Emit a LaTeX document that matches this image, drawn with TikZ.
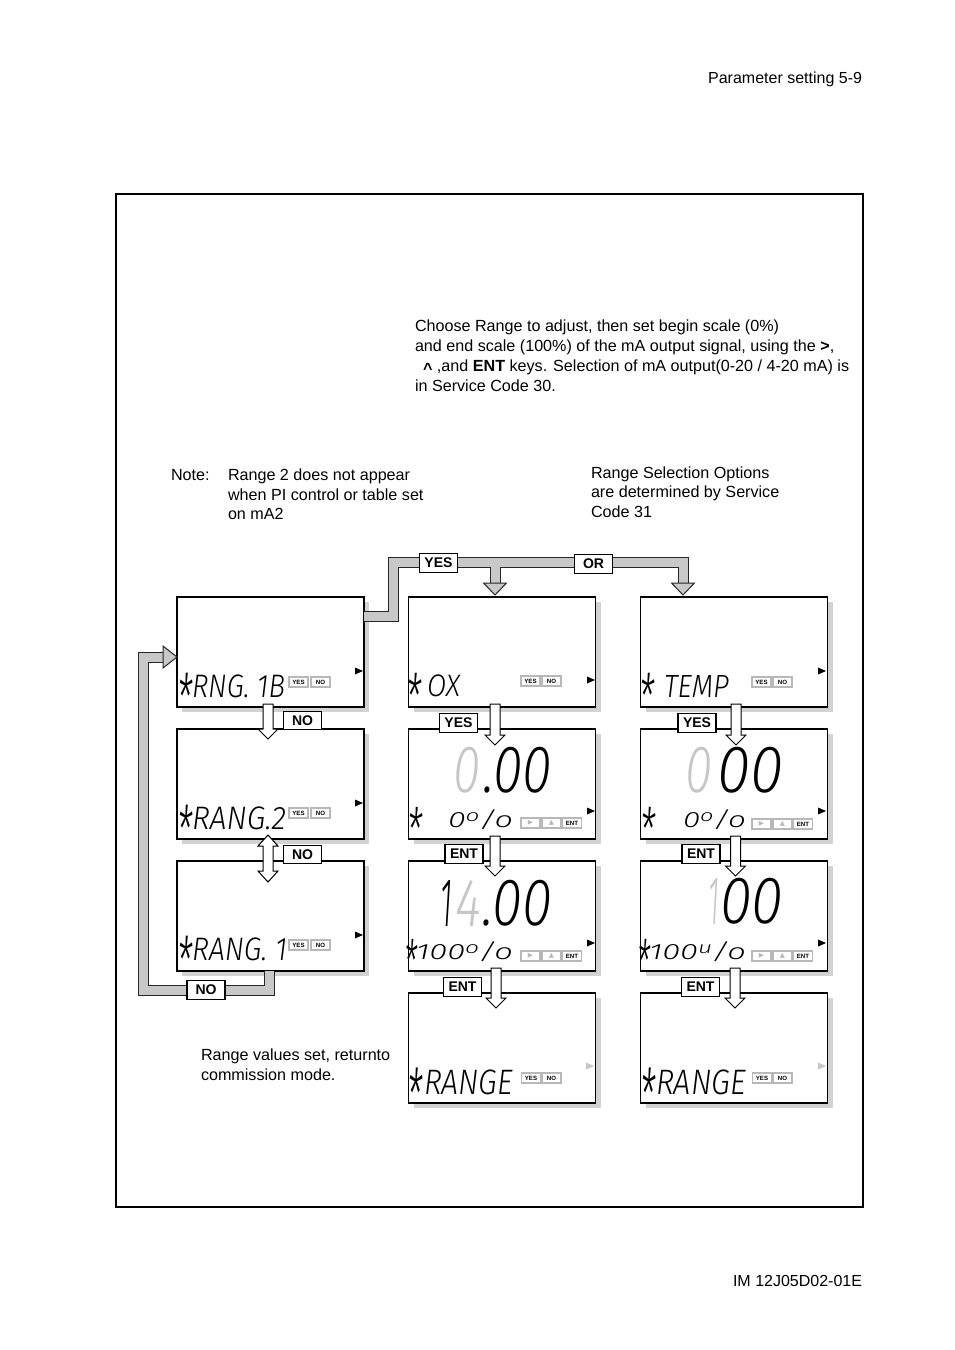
\documentclass[tikz,border=0pt]{standalone}
\usepackage{fontspec}
\setmainfont{Liberation Sans}
\newfontfamily\lcdfont{Fira Sans Light Italic}
\newfontfamily\symfont{DejaVu Sans}
\usetikzlibrary{shadows,calc}
\definecolor{pipegray}{HTML}{C8C8C8}
\definecolor{shadowgray}{HTML}{D2D2D2}
\definecolor{dimgray}{HTML}{C6C6C6}
\definecolor{btngray}{HTML}{B8B8B8}
\newcommand\lcdt[3]{\resizebox*{\dimexpr #1pt*3/4\relax}{\dimexpr #2pt*3/4\relax}{\lcdfont #3}}
\newcommand\lstar{\raisebox{-0.36em}[0.35em][0pt]{*}}
\newcommand\rtri[3]{\fill[#3] (#1,#2-3.5) -- (#1+8,#2) -- (#1,#2+3.5) -- cycle;}
\newcommand\warr[5]{\filldraw[warrow] ($(#1.south)+(#3-5,-3)$) -- ($(#1.south)+(#3+5,-3)$) -- ($(#2.north)+(#3+5,#4)$) -- ($(#2.north)+(#3+10,#4)$) -- ($(#2.north)+(#3,#5)$) -- ($(#2.north)+(#3-10,#4)$) -- ($(#2.north)+(#3-5,#4)$) -- cycle;}
\begin{document}
\begin{tikzpicture}[x=0.75pt,y=-0.75pt,
  every node/.style={inner sep=0pt, outer sep=0pt},
  lcdbox/.style={draw=black, line width=0.9pt, fill=white, minimum width=140.25pt, minimum height=82.5pt,
     copy shadow={shadow xshift=3.75pt, shadow yshift=-3.75pt, draw=none, fill=shadowgray}},
  body/.style={font=\fontsize{12.1}{15}\selectfont, anchor=base west},
  lab/.style={draw=black, line width=0.9pt, fill=white, minimum width=28.5pt, minimum height=14pt,
     font=\bfseries\fontsize{10.5}{12}\selectfont},
  btn/.style={draw=btngray, line width=1.1pt, fill=white, minimum width=14pt, minimum height=7.5pt,
     font=\bfseries\fontsize{4.6}{5}\selectfont},
  lcd/.style={anchor=south west},
  pipeout/.style={line width=8.25pt, draw=black!85, line cap=butt, line join=miter},
  pipein/.style={line width=6.75pt, draw=pipegray, line cap=butt, line join=miter},
  pipehead/.style={fill=pipegray, draw=black!85, line width=0.75pt, line join=miter},
  warrow/.style={fill=white, draw=black, line width=0.75pt, line join=miter},
]
\useasboundingbox (0,0) rectangle (954,1350);

% header / footer / frame
\node[anchor=base east, font=\fontsize{12}{14}\selectfont] (hdr) at (862,83) {Parameter setting 5-9};
\node[anchor=base east, font=\fontsize{12}{14}\selectfont] (ftr) at (862,1286) {IM 12J05D02-01E};
\draw[line width=1.1pt] (116,194) rectangle (863,1207);

% texts
\node[body] (p1) at (415,331) {Choose Range to adjust, then set begin scale (0\%)};
\node[body] (p2) at (415,351) {and end scale (100\%) of the mA output signal, using the \textbf{>},};
\node[body] (p3) at (415,371) {\hspace{0.5em}\raisebox{-0.45ex}{\textbf{\textasciicircum}} ,and \textbf{ENT} keys. Selection of mA output(0-20 / 4-20 mA) is};
\node[body] (p4) at (415,391) {in Service Code 30.};

\node[body] (n0) at (171,480) {Note:};
\node[body] (n1) at (228,480) {Range 2 does not appear};
\node[body] (n2) at (228,500) {when PI control or table set};
\node[body] (n3) at (228,519) {on mA2};

\node[body] (r1) at (591,478) {Range Selection Options};
\node[body] (r2) at (591,497) {are determined by Service};
\node[body] (r3) at (591,517) {Code 31};

\node[body] (v1) at (201,1060) {Range values set, returnto};
\node[body] (v2) at (201,1080) {commission mode.};

% display boxes
\node[lcdbox] (b11) at (270.5,652) {};
\node[lcdbox] (b12) at (270.5,784) {};
\node[lcdbox] (b13) at (270.5,916) {};
\node[lcdbox] (b21) at (502,652) {};
\node[lcdbox] (b22) at (502,784) {};
\node[lcdbox] (b23) at (502,916) {};
\node[lcdbox] (b24) at (502,1048) {};
\node[lcdbox] (b31) at (734,652) {};
\node[lcdbox] (b32) at (734,784) {};
\node[lcdbox] (b33) at (734,916) {};
\node[lcdbox] (b34) at (734,1048) {};

% LCD texts, column 1
\node[lcd] (s11) at (177,698) {\lcdt{15}{23}{\lstar}};
\node[lcd] (t11) at (192,698) {\lcdt{93}{23}{RNG. 1B}};
\node[lcd] (s12) at (177,830) {\lcdt{15}{23}{\lstar}};
\node[lcd] (t12) at (192,830) {\lcdt{94}{23}{RANG.2}};
\node[lcd] (s13) at (177,961) {\lcdt{15}{23}{\lstar}};
\node[lcd] (t13) at (192,961) {\lcdt{95}{23}{RANG. 1}};

% column 2
\node[lcd] (s21) at (406,697) {\lcdt{15}{22}{\lstar}};
\node[lcd] (t21) at (427,697) {\lcdt{33}{22}{OX}};
\node[lcd] (g22) at (453,793) {\lcdt{27}{46}{\color{dimgray}0}};
\node[lcd] (d22) at (483,793) {\lcdt{69}{46}{.00}};
\node[lcd] (s22) at (407,830) {\lcdt{15}{21}{\lstar}};
\node[lcd] (u22) at (448,830) {\lcdt{65}{20}{0\raisebox{0.3em}{\scalebox{0.75}{o}}/o}};
\node[lcd] (k23) at (440,926) {\lcdt{12}{46}{1}};
\node[lcd] (g23) at (455,926) {\lcdt{26}{46}{\color{dimgray}4}};
\node[lcd] (d23) at (482,926) {\lcdt{70}{46}{.00}};
\node[lcd] (s23) at (404,962) {\lcdt{13}{21}{\lstar}};
\node[lcd] (u23) at (416,962) {\lcdt{97}{20}{100\raisebox{0.3em}{\scalebox{0.75}{o}}/o}};
\node[lcd] (s24) at (407,1095) {\lcdt{15}{25}{\lstar}};
\node[lcd] (t24) at (424,1095) {\lcdt{89}{25}{RANGE}};

% column 3
\node[lcd] (s31) at (639,697) {\lcdt{15}{22}{\lstar}};
\node[lcd] (t31) at (664,697) {\lcdt{65}{22}{TEMP}};
\node[lcd] (g32) at (685,793) {\lcdt{27}{46}{\color{dimgray}0}};
\node[lcd] (d32) at (717,793) {\lcdt{66}{46}{00}};
\node[lcd] (s32) at (640,830) {\lcdt{15}{21}{\lstar}};
\node[lcd] (u32) at (683,830) {\lcdt{63}{20}{0\raisebox{0.3em}{\scalebox{0.75}{o}}/o}};
\node[lcd] (g33) at (708,924) {\lcdt{11}{46}{\color{dimgray}1}};
\node[lcd] (d33) at (720,924) {\lcdt{63}{46}{00}};
\node[lcd] (s33) at (637,962) {\lcdt{13}{21}{\lstar}};
\node[lcd] (u33) at (649,962) {\lcdt{97}{20}{100\raisebox{0.3em}{\scalebox{0.75}{u}}/o}};
\node[lcd] (s34) at (640,1095) {\lcdt{15}{25}{\lstar}};
\node[lcd] (t34) at (656,1095) {\lcdt{90}{25}{RANGE}};

% small key buttons
\node[btn] (y11) at (298.5,682) {YES}; \node[btn] (n11) at (320.5,682) {NO};
\node[btn] (y12) at (298.5,813) {YES}; \node[btn] (n12) at (320.5,813) {NO};
\node[btn] (y13) at (298.5,945) {YES}; \node[btn] (n13) at (320.5,945) {NO};
\node[btn] (y21) at (530.5,681) {YES}; \node[btn] (n21) at (551.5,681) {NO};
\node[btn] (y31) at (761.5,682) {YES}; \node[btn] (n31) at (782.5,682) {NO};
\node[btn] (y24) at (531,1078) {YES}; \node[btn] (n24) at (551.5,1078) {NO};
\node[btn] (y34) at (762,1078) {YES}; \node[btn] (n34) at (782.5,1078) {NO};
\foreach \bx/\by/\nm in {530.5/823/22, 530.5/956/23, 761.5/824/32, 761.5/956/33}{
  \node[btn] (ra\nm) at (\bx,\by) {\symfont\fontsize{5}{5}\selectfont\color{btngray}▶};
  \node[btn] (up\nm) at (\bx+21,\by) {\symfont\fontsize{5}{5}\selectfont\color{btngray}▲};
  \node[btn] (en\nm) at (\bx+41.5,\by) {ENT};
}

% right indicator triangles
\rtri{355}{671}{black} \rtri{355}{803}{black} \rtri{355}{935}{black}
\rtri{587}{680}{black} \rtri{587}{811}{black} \rtri{587}{943}{black} \rtri{586}{1066}{dimgray}
\rtri{818}{671}{black} \rtri{818}{811}{black} \rtri{818}{943}{black} \rtri{818}{1066}{dimgray}

% gray pipes
\draw[pipeout] ($(b11.north east)+(0,19)$) -- (393,616) -- (393,562) -- (683,562) -- ($(b31.north)+(-51,-13)$)
               (495,562) -- ($(b21.north)+(-7,-13)$);
\draw[pipeout] ($(b13.south)+(-1,0)$) -- (269.5,990) -- (143,990) -- (143,657) -- ($(b11.west)+(-13,5)$);
\draw[pipein] ($(b11.north east)+(0,19)$) -- (393,616) -- (393,562) -- (683,562) -- ($(b31.north)+(-51,-13)$)
               (495,562) -- ($(b21.north)+(-7,-13)$);
\draw[pipein] ($(b13.south)+(-1,0)$) -- (269.5,990) -- (143,990) -- (143,657) -- ($(b11.west)+(-13,5)$);
\filldraw[pipehead] ($(b21.north)+(-18.5,-14)$) -- ($(b21.north)+(4.5,-14)$) -- ($(b21.north)+(-7,-2)$) -- cycle;
\filldraw[pipehead] ($(b31.north)+(-62.5,-14)$) -- ($(b31.north)+(-39.5,-14)$) -- ($(b31.north)+(-51,-2)$) -- cycle;
\filldraw[pipehead] ($(b11.west)+(-14,-6)$) -- ($(b11.west)+(0,5)$) -- ($(b11.west)+(-14,16)$) -- cycle;

% white step arrows
\warr{b11}{b12}{-2.5}{0}{10}
\filldraw[warrow] ($(b12.south)+(-2.5,-4)$) -- ++(10,11) -- ++(-5,0) -- ($(b13.north)+(2.5,10)$) -- ++(5,0)
   -- ++(-10,11) -- ++(-10,-11) -- ++(5,0) -- ($(b12.south)+(-7.5,7)$) -- ++(-5,0) -- cycle;
\warr{b21}{b22}{-7}{6}{16}
\warr{b22}{b23}{-7}{5}{15}
\warr{b23}{b24}{-6}{5}{15}
\warr{b31}{b32}{2}{6}{16}
\warr{b32}{b33}{1.5}{5}{15}
\warr{b33}{b34}{1}{5}{15}

% labels
\node[lab] (lno1) at (302.5,720.5) {NO};
\node[lab] (lno2) at (302.5,854.5) {NO};
\node[lab] (lno3) at (206,990) {NO};
\node[lab] (lyes0) at (438.5,563) {YES};
\node[lab] (lor) at (593.5,564) {OR};
\node[lab] (lyes2) at (458.5,723) {YES};
\node[lab] (lyes3) at (697,723) {YES};
\node[lab] (lent2) at (464,854) {ENT};
\node[lab] (lent3) at (701,854) {ENT};
\node[lab] (lent4) at (462.5,987) {ENT};
\node[lab] (lent5) at (700.5,987) {ENT};
\end{tikzpicture}
\end{document}
